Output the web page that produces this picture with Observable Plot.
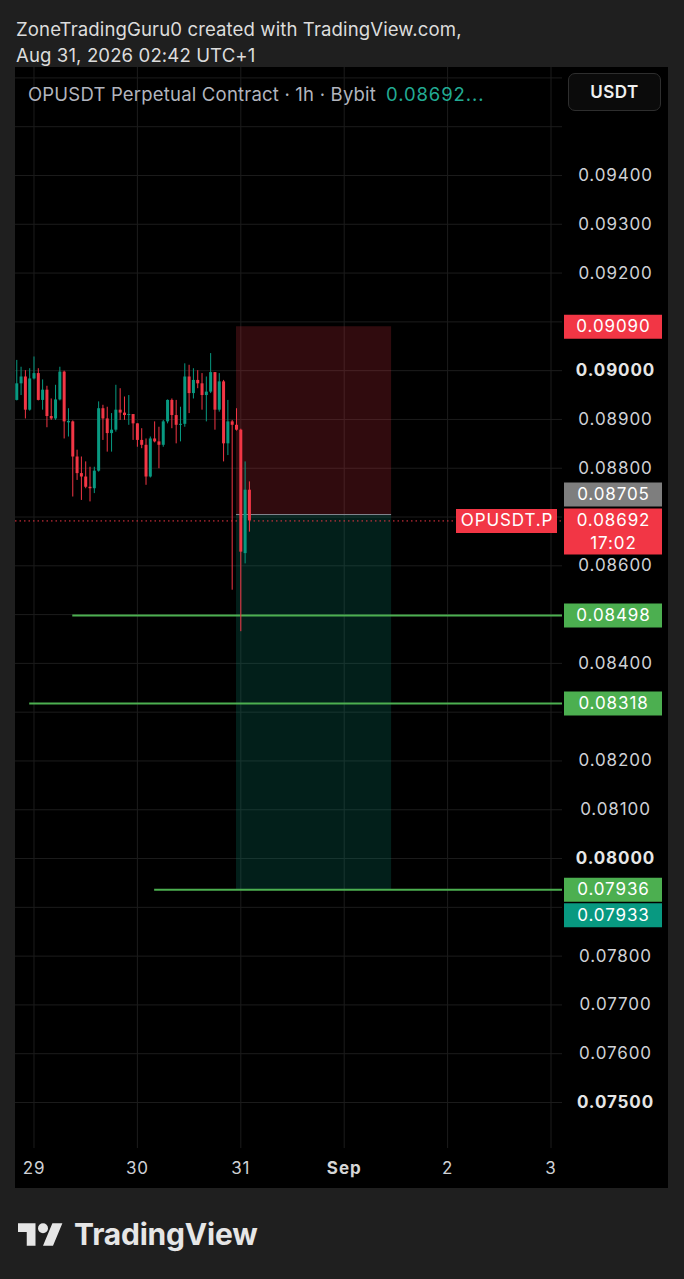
<!DOCTYPE html>
<html>
<head>
<meta charset="utf-8">
<script src="https://cdn.jsdelivr.net/npm/d3@7"></script>
<script src="https://cdn.jsdelivr.net/npm/@observablehq/plot@0.6"></script>
<style>
  html, body { margin: 0; padding: 0; background: #1f1f1f; width: 684px; height: 1279px; overflow: hidden; }
  body { position: relative; font-family: Inter, Roboto, "Noto Sans", sans-serif; }
  .hdr { position: absolute; left: 16px; color: #dcdcdc; font-size: 18.6px; line-height: 18px; white-space: nowrap; letter-spacing: 0.1px; }
  #panel { position: absolute; left: 15px; top: 67px; width: 653px; height: 1121px; background: #000; }
  #chart { position: absolute; left: 0; top: 0; }
  #chart text { letter-spacing: 0.9px; }
  .legend { position: absolute; left: 13px; top: 18px; font-size: 18.5px; line-height: 18px; color: #b2b5be; white-space: nowrap; letter-spacing: 0.2px; }
  .legend .val { color: #22ab94; margin-left: 10px; letter-spacing: 0.9px; }
  .usdt { position: absolute; left: 553px; top: 6px; width: 93px; height: 38px; box-sizing: border-box; border: 1px solid #2e2e2e; border-radius: 7px; background: #0b0b0b; color: #f0f0f0; font-family: Inter, sans-serif; font-weight: 600; font-size: 17px; line-height: 36px; text-align: center; letter-spacing: 0.5px; }
  .logo { position: absolute; left: 18px; top: 1214px; height: 40px; display: flex; align-items: center; color: #e6e6e6; }
  .logo span { font-family: Inter, sans-serif; font-weight: 700; font-size: 30px; margin-left: 11px; letter-spacing: -0.2px; }
</style>
</head>
<body>
<div class="hdr" style="top:20px">ZoneTradingGuru0 created with TradingView.com,</div>
<div class="hdr" style="top:46px">Aug 31, 2026 02:42 UTC+1</div>
<div id="panel">
  <div id="chart"></div>
  <div class="legend">OPUSDT Perpetual Contract · 1h · Bybit<span class="val">0.08692...</span></div>
  <div class="usdt">USDT</div>
</div>
<div class="logo">
  <svg width="45" height="23" viewBox="0 4 36 18"><path fill="#e6e6e6" d="M14 22H7V11H0V4h14v18zM28 22h-8l7.5-18h8L28 22z"/><circle fill="#e6e6e6" cx="20" cy="8" r="4"/></svg>
  <span>TradingView</span>
</div>
<script>
// ---- data (OPUSDT perpetual, 1h candles, from Aug 28 20:00) ----
const candleStart = Date.UTC(2026, 7, 28, 20);
const open  = [0.08939,0.08973,0.08987,0.08919,0.08983,0.08994,0.08939,0.08960,0.08906,0.08901,
               0.08940,0.08997,0.08893,0.08895,0.08823,0.08789,0.08782,0.08761,0.08758,0.08794,
               0.08922,0.08901,0.08871,0.08878,0.08919,0.08913,0.08908,0.08910,0.08891,0.08857,
               0.08847,0.08782,0.08860,0.08854,0.08847,0.08895,0.08939,0.08908,0.08888,0.08890,
               0.08987,0.08953,0.08980,0.08973,0.08949,0.08956,0.08996,0.08919,0.08977,0.08850,
               0.08895,0.08888,0.08878,0.08625,0.08755];
const high  = [0.09021,0.09007,0.09000,0.09004,0.09028,0.09004,0.08981,0.08968,0.08942,0.08970,
               0.09007,0.08999,0.08922,0.08897,0.08837,0.08823,0.08813,0.08802,0.08802,0.08936,
               0.08929,0.08925,0.08912,0.08970,0.08963,0.08946,0.08949,0.08910,0.08891,0.08881,
               0.08860,0.08864,0.08895,0.08884,0.08898,0.08940,0.08942,0.08939,0.08925,0.09014,
               0.09011,0.09004,0.09000,0.08994,0.08987,0.09035,0.08996,0.08994,0.08980,0.08939,
               0.08898,0.08922,0.08880,0.08813,0.08772];
const low   = [0.08938,0.08949,0.08901,0.08917,0.08981,0.08938,0.08919,0.08883,0.08898,0.08898,
               0.08938,0.08860,0.08864,0.08741,0.08775,0.08734,0.08758,0.08731,0.08748,0.08792,
               0.08857,0.08833,0.08833,0.08874,0.08898,0.08898,0.08888,0.08857,0.08843,0.08840,
               0.08765,0.08780,0.08852,0.08799,0.08843,0.08891,0.08881,0.08850,0.08854,0.08884,
               0.08912,0.08942,0.08963,0.08919,0.08895,0.08953,0.08878,0.08915,0.08813,0.08826,
               0.08550,0.08876,0.08465,0.08604,0.08669];
const close = [0.08973,0.08987,0.08919,0.08983,0.08994,0.08939,0.08960,0.08906,0.08901,0.08940,
               0.08997,0.08895,0.08896,0.08823,0.08789,0.08782,0.08761,0.08758,0.08794,0.08922,
               0.08901,0.08871,0.08878,0.08919,0.08913,0.08908,0.08910,0.08891,0.08857,0.08847,
               0.08782,0.08860,0.08854,0.08847,0.08895,0.08939,0.08908,0.08888,0.08890,0.08987,
               0.08953,0.08980,0.08973,0.08949,0.08956,0.08996,0.08919,0.08977,0.08850,0.08895,
               0.08888,0.08878,0.08628,0.08755,0.08692];

// short position tool
const posStart = new Date(Date.UTC(2026, 7, 30, 23));
const posEnd   = new Date(Date.UTC(2026, 8, 1, 11));
const entryPrice = 0.08705;
const stopPrice  = 0.09090;
const targetPrice = 0.07936;

// horizontal levels
const levelPrices = [0.08498, 0.08318, 0.07936];
const levelStarts = [new Date(Date.UTC(2026, 7, 29, 9)), new Date(Date.UTC(2026, 7, 28, 23)), new Date(Date.UTC(2026, 7, 30, 4))];

const lastPrice = 0.08692;
const countdown = "17:02";
const ticker = "OPUSDT.P";
const tealPrice = 0.07933;

// axes (ticks hidden behind the price labels are left out)
const gridPrices   = [0.096,0.095,0.094,0.093,0.092,0.091,0.090,0.089,0.088,0.087,0.086,0.085,0.084,0.083,0.082,0.081,0.080,0.079,0.078,0.077,0.076,0.075];
const priceTicks   = [0.094,0.093,0.092,0.089,0.088,0.086,0.084,0.082,0.081,0.078,0.077,0.076];
const boldTicks    = [0.090, 0.080, 0.075];
const dayTicks  = [Date.UTC(2026,7,29), Date.UTC(2026,7,30), Date.UTC(2026,7,31), Date.UTC(2026,8,1), Date.UTC(2026,8,2), Date.UTC(2026,8,3)].map(d => new Date(d));
const dayLabels = ["29", "30", "31", "Sep", "2", "3"];

// ---- build ----
const candles = open.map((o, i) => ({t: new Date(candleStart + i * 3600e3), o, h: high[i], l: low[i], c: close[i]}));
const RED = "#f23645", GREEN = "#089981", LEVEL = "#4caf50";
const xDomain = [new Date(Date.UTC(2026, 7, 28, 19, 42, 22)), new Date(Date.UTC(2026, 8, 3, 2, 40))];
const W = 653, H = 1121, MR = 106, MB = 40;
const FR = W - MR; // frame right (local)
const fmt = d3.format(".5f");

function labelBox(v, fill, {dy = 0, h = 24, x1 = 549, x2 = 647, lines = [[fmt(v), 0]]} = {}) {
  return [
    Plot.tickY([v], {y: d => d, stroke: fill, strokeWidth: h, insetLeft: x1, insetRight: FR - x2, dy}),
    ...lines.map(([txt, ldy]) => Plot.text([v], {y: d => d, text: () => txt, frameAnchor: "right", textAnchor: "middle", dx: (x1 + x2) / 2 - FR, dy: ldy, fill: "#ffffff", fontSize: 17}))
  ];
}

const chart = Plot.plot({
  width: W, height: H,
  marginLeft: 0, marginRight: MR, marginTop: 0, marginBottom: MB,
  style: {background: "#000", fontFamily: "Inter, sans-serif", overflow: "visible"},
  x: {type: "utc", domain: xDomain, axis: null},
  y: {domain: [0.074057, 0.0962136], axis: null},
  marks: [
    Plot.ruleY(gridPrices, {stroke: "#1c1c1c"}),
    Plot.ruleX(dayTicks, {stroke: "#1c1c1c"}),
    Plot.rect([0], {x1: () => posStart, x2: () => posEnd, y1: () => entryPrice, y2: () => stopPrice, fill: RED, fillOpacity: 0.2}),
    Plot.rect([0], {x1: () => posStart, x2: () => posEnd, y1: () => targetPrice, y2: () => entryPrice, fill: GREEN, fillOpacity: 0.2}),
    Plot.ruleY([entryPrice], {x1: () => posStart, x2: () => posEnd, stroke: "#8a8d96", strokeWidth: 1}),
    Plot.ruleY(levelPrices, {x1: (d, i) => levelStarts[i], x2: () => xDomain[1], stroke: LEVEL, strokeWidth: 2}),
    Plot.ruleY([lastPrice], {stroke: RED, strokeDasharray: "1.5,3", strokeWidth: 1}),
    Plot.ruleX(candles, {x: "t", y1: "l", y2: "h", stroke: d => d.c >= d.o ? GREEN : RED, strokeWidth: 1}),
    Plot.ruleX(candles, {x: "t", y1: "o", y2: "c", stroke: d => d.c >= d.o ? GREEN : RED, strokeWidth: 3}),
    // price axis
    Plot.text(priceTicks, {y: d => d, text: d => fmt(d), frameAnchor: "right", textAnchor: "middle", dx: 53, fill: "#cfd1d6", fontSize: 17}),
    Plot.text(boldTicks, {y: d => d, text: d => fmt(d), frameAnchor: "right", textAnchor: "middle", dx: 53, fill: "#e6e6e6", fontSize: 17, fontWeight: "bold"}),
    // time axis
    Plot.text(dayTicks.filter((d, i) => dayLabels[i] !== "Sep"), {x: d => d, text: d => dayLabels[dayTicks.indexOf(d)], frameAnchor: "bottom", dy: 25, fill: "#cfd1d6", fontSize: 17}),
    Plot.text(dayTicks.filter((d, i) => dayLabels[i] === "Sep"), {x: d => d, text: () => "Sep", frameAnchor: "bottom", dy: 25, fill: "#d6d6d6", fontSize: 17, fontWeight: "bold"}),
    // label boxes
    ...labelBox(stopPrice, RED),
    ...labelBox(entryPrice, "#7e7e7e", {dy: -20, lines: [[fmt(entryPrice), -20]]}),
    ...labelBox(lastPrice, RED, {dy: 10.5, h: 46, lines: [[fmt(lastPrice), 0], [countdown, 23]]}),
    ...labelBox(lastPrice, RED, {x1: 441, x2: 542, lines: [[ticker, 0]]}),
    ...labelBox(levelPrices[0], LEVEL),
    ...labelBox(levelPrices[1], LEVEL),
    ...labelBox(levelPrices[2], LEVEL),
    ...labelBox(tealPrice, GREEN, {dy: 24, lines: [[fmt(tealPrice), 24]]})
  ]
});
document.getElementById("chart").appendChild(chart);
</script>
</body>
</html>
